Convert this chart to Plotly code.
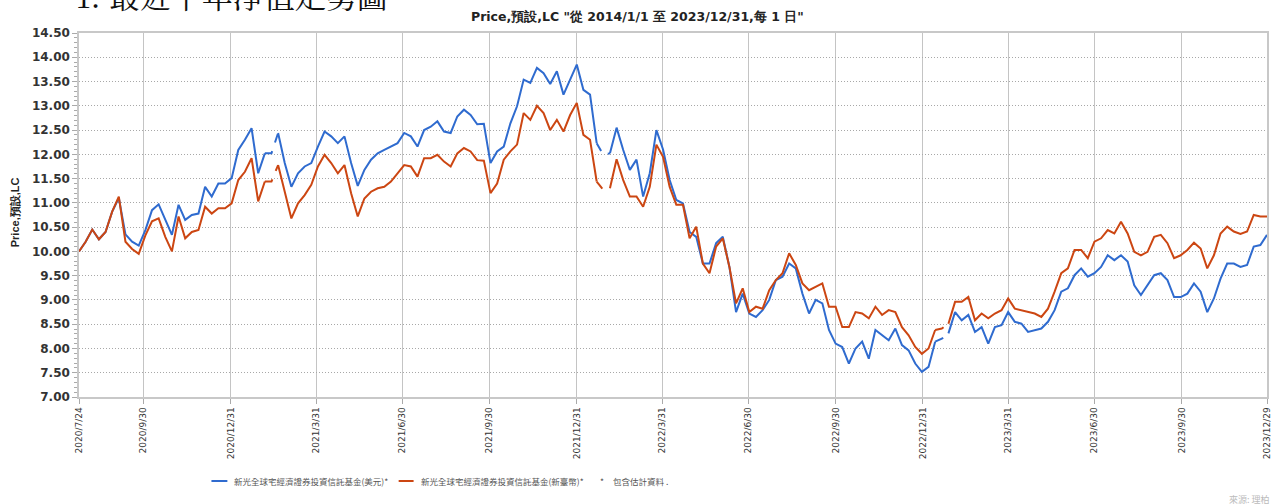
import pandas as pd
import plotly.graph_objects as go

# ---------------- data ----------------
start_date = "2020-07-24"
end_date = "2023-12-29"
dates = pd.date_range(start_date, end_date, freq="7D")

usd_nav = [
    10.00, 10.20, 10.45, 10.25, 10.40, 10.82, 11.10, 10.35, 10.20, 10.12,
    10.44, 10.85, 10.97, 10.65, 10.34, 10.96, 10.65, 10.75, 10.78, 11.33,
    11.13, 11.40, 11.40, 11.51, 12.09, 12.30, 12.54, 11.61, 12.02, 12.02,
    12.44, 11.82, 11.33, 11.61, 11.75, 11.82, 12.16, 12.47, 12.37, 12.23,
    12.37, 11.82, 11.35, 11.68, 11.89, 12.02, 12.09, 12.16, 12.23, 12.44,
    12.37, 12.16, 12.50, 12.57, 12.68, 12.47, 12.44, 12.78, 12.92, 12.81,
    12.62, 12.63, 11.82, 12.06, 12.16, 12.64, 12.99, 13.54, 13.47, 13.78,
    13.67, 13.45, 13.71, 13.23, 13.54, 13.85, 13.33, 13.23, 12.23, 11.99,
    12.02, 12.55, 12.09, 11.68, 11.89, 11.13, 11.61, 12.50, 12.10, 11.47,
    11.06, 10.99, 10.40, 10.30, 9.75, 9.75, 10.17, 10.30, 9.68, 8.75,
    9.13, 8.72, 8.65, 8.79, 9.00, 9.41, 9.48, 9.75, 9.65, 9.13,
    8.72, 9.00, 8.93, 8.38, 8.10, 8.03, 7.69, 8.00, 8.14, 7.79,
    8.38, 8.27, 8.17, 8.41, 8.07, 7.96, 7.69, 7.52, 7.62, 8.14,
    8.20, 8.31, 8.75, 8.58, 8.69, 8.34, 8.44, 8.10, 8.44, 8.48,
    8.75, 8.55, 8.51, 8.34, 8.38, 8.41, 8.55, 8.79, 9.17, 9.24,
    9.51, 9.65, 9.48, 9.55, 9.68, 9.92, 9.82, 9.92, 9.79, 9.30,
    9.10, 9.30, 9.51, 9.55, 9.41, 9.06, 9.06, 9.13, 9.34, 9.17,
    8.75, 9.03, 9.44, 9.75, 9.75, 9.68, 9.72, 10.10, 10.13, 10.34,
]

twd_nav = [
    10.00, 10.20, 10.45, 10.25, 10.40, 10.82, 11.13, 10.20, 10.05, 9.95,
    10.33, 10.62, 10.68, 10.30, 10.00, 10.72, 10.27, 10.40, 10.44, 10.92,
    10.78, 10.89, 10.89, 10.99, 11.47, 11.64, 11.92, 11.03, 11.44, 11.44,
    11.78, 11.20, 10.68, 10.99, 11.16, 11.37, 11.75, 11.99, 11.82, 11.61,
    11.78, 11.20, 10.72, 11.09, 11.23, 11.30, 11.33, 11.44, 11.61, 11.78,
    11.75, 11.54, 11.92, 11.92, 11.99, 11.85, 11.75, 12.02, 12.13, 12.06,
    11.88, 11.87, 11.20, 11.40, 11.89, 12.06, 12.20, 12.85, 12.71, 13.00,
    12.85, 12.50, 12.71, 12.47, 12.81, 13.06, 12.40, 12.30, 11.44, 11.27,
    11.30, 11.90, 11.47, 11.13, 11.13, 10.92, 11.33, 12.20, 11.95, 11.33,
    10.96, 10.96, 10.27, 10.51, 9.75, 9.55, 10.10, 10.27, 9.68, 8.93,
    9.24, 8.75, 8.86, 8.82, 9.20, 9.41, 9.55, 9.96, 9.72, 9.34,
    9.20, 9.27, 9.34, 8.86, 8.86, 8.44, 8.44, 8.75, 8.72, 8.62,
    8.86, 8.69, 8.79, 8.75, 8.44, 8.27, 8.03, 7.89, 8.00, 8.38,
    8.41, 8.51, 8.96, 8.96, 9.06, 8.58, 8.72, 8.62, 8.72, 8.79,
    9.03, 8.82, 8.79, 8.75, 8.72, 8.65, 8.82, 9.17, 9.55, 9.65,
    10.03, 10.03, 9.86, 10.20, 10.27, 10.44, 10.37, 10.61, 10.37, 9.99,
    9.92, 9.99, 10.30, 10.34, 10.17, 9.86, 9.92, 10.03, 10.18, 10.06,
    9.65, 9.92, 10.37, 10.51, 10.41, 10.36, 10.41, 10.75, 10.72, 10.72,
]

# weeks containing estimated (holiday) values, drawn dashed
estimated_idx = [29, 79, 130]

series_names = [
    "新光全球宅經濟證券投資信託基金(美元)*",
    "新光全球宅經濟證券投資信託基金(新臺幣)*",
]

tick_dates = [
    "2020-07-24", "2020-09-30", "2020-12-31", "2021-03-31", "2021-06-30",
    "2021-09-30", "2021-12-31", "2022-03-31", "2022-06-30", "2022-09-30",
    "2022-12-31", "2023-03-31", "2023-06-30", "2023-09-30", "2023-12-29",
]
tick_labels = [
    "2020/7/24", "2020/9/30", "2020/12/31", "2021/3/31", "2021/6/30",
    "2021/9/30", "2021/12/31", "2022/3/31", "2022/6/30", "2022/9/30",
    "2022/12/31", "2023/3/31", "2023/6/30", "2023/9/30", "2023/12/29",
]

chart_title = 'Price,預設,LC "從 2014/1/1 至 2023/12/31,每 1 日"'
y_title = "Price,預設,LC"
note_star = "*"
note_text = "包含估計資料 ."
source_text = "來源: 理柏"
heading_text = "1. 最近十年淨值走勢圖"

# ---------------- styling ----------------
W, H = 1281, 504
M_L, M_R, M_T, M_B = 79, 9, 33, 107
colors = ["#2F6BCF", "#CC4612"]


def px_x(x):
    return (x - M_L) / (W - M_L - M_R)


def px_y(y):
    return (H - M_B - y) / (H - M_T - M_B)


fig = go.Figure()

for name, vals, col in zip(series_names, [usd_nav, twd_nav], colors):
    solid = [None if i in estimated_idx else v for i, v in enumerate(vals)]
    fig.add_trace(go.Scatter(
        x=dates, y=solid, mode="lines", name=name, showlegend=False,
        line=dict(color=col, width=2), connectgaps=False,
    ))
    dx, dy = [], []
    for i in estimated_idx:
        for j in (i - 1, i, i + 1):
            dx.append(dates[j])
            dy.append(vals[j])
        dx.append(None)
        dy.append(None)
    fig.add_trace(go.Scatter(
        x=dx, y=dy, mode="lines", showlegend=False,
        line=dict(color=col, width=2, dash="dash"),
    ))

frame = "#c8c8c8"

fig.update_layout(
    width=W, height=H, autosize=False,
    margin=dict(l=M_L, r=M_R, t=M_T, b=M_B),
    paper_bgcolor="white", plot_bgcolor="white",
    showlegend=False,
    xaxis=dict(
        type="date", range=[start_date, end_date],
        tickmode="array", tickvals=tick_dates, ticktext=tick_labels,
        tickangle=-90, ticks="outside", ticklen=5, tickcolor="#aaaaaa",
        tickfont=dict(family="DejaVu Sans", size=9, color="#333333"),
        showgrid=True, gridcolor="#c4c4c4", griddash="solid", gridwidth=1,
        showline=True, mirror=True, linecolor=frame, linewidth=1.5,
        zeroline=False,
    ),
    yaxis=dict(
        range=[7, 14.5], dtick=0.5, tick0=7, tickformat=".2f",
        ticks="outside", ticklen=5, tickcolor="#aaaaaa",
        tickfont=dict(family="DejaVu Sans", size=12, color="#333333", weight="bold"),
        showgrid=True, gridcolor="#a8a8a8", griddash="1px,2px", gridwidth=1,
        showline=True, mirror=True, linecolor=frame, linewidth=1.5,
        zeroline=False,
        minor=dict(dtick=0.1, tick0=7, ticks="outside", ticklen=3,
                   tickcolor="#aaaaaa", showgrid=False),
    ),
)

# manual legend (line samples + labels), matching the original compact layout
legend_font = dict(family="Noto Sans CJK TC", size=8.5, color="#555555")
legend_y = px_y(481)
for (x0, x1, tx), name, col in zip([(212, 228, 233), (400, 415, 420)], series_names, colors):
    fig.add_shape(type="line", xref="paper", yref="paper",
                  x0=px_x(x0), x1=px_x(x1), y0=legend_y, y1=legend_y,
                  line=dict(color=col, width=2))
    fig.add_annotation(xref="paper", yref="paper", x=px_x(tx), y=legend_y,
                       text=name, showarrow=False, xanchor="left", yanchor="middle",
                       font=legend_font)
fig.add_annotation(xref="paper", yref="paper", x=px_x(600), y=legend_y,
                   text=note_star, showarrow=False, xanchor="left", yanchor="middle",
                   font=legend_font)
fig.add_annotation(xref="paper", yref="paper", x=px_x(613), y=legend_y,
                   text=note_text, showarrow=False, xanchor="left", yanchor="middle",
                   font=legend_font)

fig.add_annotation(
    xref="paper", yref="paper", x=px_x(640), y=px_y(17),
    text=chart_title, showarrow=False, xanchor="center", yanchor="middle",
    font=dict(family="DejaVu Sans", size=12.5, color="#222222", weight="bold"),
)
fig.add_annotation(
    xref="paper", yref="paper", x=px_x(15), y=px_y(212),
    text=y_title, showarrow=False, textangle=-90, xanchor="center", yanchor="middle",
    font=dict(family="Liberation Sans Narrow, Liberation Sans", size=11, color="#222222", weight="bold"),
)
fig.add_annotation(
    xref="paper", yref="paper", x=px_x(1277), y=px_y(500),
    text=source_text, showarrow=False, xanchor="right", yanchor="middle",
    font=dict(family="Noto Sans CJK TC", size=9, color="#bbbbbb"),
)
fig.add_annotation(
    xref="paper", yref="paper", x=px_x(74), y=px_y(19),
    text=heading_text, showarrow=False, xanchor="left", yanchor="bottom",
    font=dict(family="Noto Serif CJK TC, Noto Sans CJK TC", size=31, color="#111111"),
)

fig.write_html(
    "out.html",
    config={"displayModeBar": False},
    post_script="document.body.style.margin='0';document.body.style.overflow='hidden';",
)
